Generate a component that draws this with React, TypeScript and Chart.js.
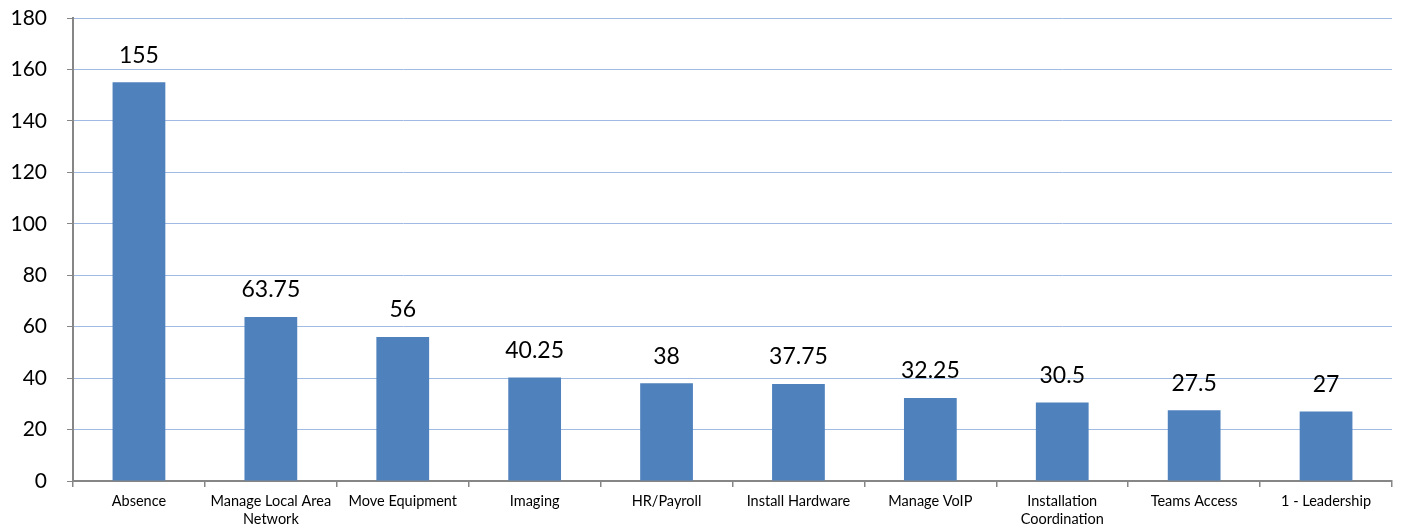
import React, { useEffect, useRef } from "react";
import { Chart, registerables } from "chart.js";

Chart.register(...registerables);

const categories: (string | string[])[] = [
  "Absence",
  ["Manage Local Area", "Network"],
  "Move Equipment",
  "Imaging",
  "HR/Payroll",
  "Install Hardware",
  "Manage VoIP",
  ["Installation", "Coordination"],
  "Teams Access",
  "1 - Leadership",
];

const values: number[] = [155, 63.75, 56, 40.25, 38, 37.75, 32.25, 30.5, 27.5, 27];

const yMin = 0;
const yMax = 180;
const yStep = 20;

const FONT = "Lato, 'Open Sans', sans-serif";

const valueLabels = {
  id: "valueLabels",
  afterDatasetsDraw(chart: any) {
    const ctx = chart.ctx;
    const meta = chart.getDatasetMeta(0);
    ctx.save();
    ctx.font = `23px ${FONT}`;
    ctx.fillStyle = "#000000";
    ctx.textAlign = "center";
    ctx.textBaseline = "middle";
    meta.data.forEach((bar: any, i: number) => {
      ctx.fillText(String(values[i]), bar.x, bar.y - 27);
    });
    ctx.restore();
  },
};

export default function App() {
  const ref = useRef<HTMLCanvasElement | null>(null);

  useEffect(() => {
    document.body.style.margin = "0";
    const canvas = ref.current;
    if (!canvas) return;
    const chart = new Chart(canvas, {
      type: "bar",
      data: {
        labels: categories,
        datasets: [
          {
            data: values,
            backgroundColor: "#4f81bd",
            borderWidth: 0,
            barPercentage: 0.4,
            categoryPercentage: 1,
          },
        ],
      },
      options: {
        animation: false,
        responsive: false,
        devicePixelRatio: 1,
        layout: { padding: { top: 18, right: 10, left: 0, bottom: 0 } },
        plugins: {
          legend: { display: false },
          tooltip: { enabled: false },
        },
        scales: {
          x: {
            grid: {
              offset: true,
              drawOnChartArea: false,
              drawTicks: true,
              tickLength: 6,
              color: "#868686",
              lineWidth: 1.5,
            },
            border: { color: "#868686", width: 2 },
            ticks: {
              color: "#000000",
              font: { family: FONT, size: 14.5, lineHeight: 1.25 },
              padding: 5,
              maxRotation: 0,
              autoSkip: false,
            },
            afterFit: (s: any) => {
              s.height = 48;
              s.paddingLeft = 0;
              s.paddingRight = 0;
            },
          },
          y: {
            min: yMin,
            max: yMax,
            ticks: {
              stepSize: yStep,
              color: "#000000",
              font: { family: FONT, size: 21 },
              padding: 20,
            },
            grid: {
              color: "#9fbbe4",
              tickColor: "#868686",
              tickLength: 6,
              lineWidth: 1,
            },
            border: { color: "#868686", width: 2 },
            afterFit: (s: any) => {
              s.width = 73;
              s.paddingTop = 0;
              s.paddingBottom = 0;
            },
          },
        },
      },
      plugins: [valueLabels],
    });
    return () => chart.destroy();
  }, []);

  return (
    <div style={{ width: 1402, height: 529, background: "#ffffff" }}>
      <canvas ref={ref} width={1402} height={529} />
    </div>
  );
}
